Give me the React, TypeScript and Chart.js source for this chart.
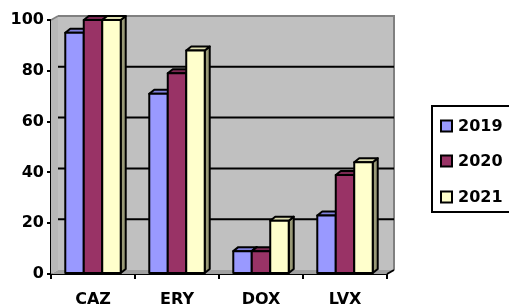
import React, { useEffect, useRef } from "react";
import { Chart, registerables } from "chart.js";
Chart.register(...registerables);

const categories = ["CAZ", "ERY", "DOX", "LVX"];
const seriesNames = ["2019", "2020", "2021"];
const values2019 = [95, 71, 9, 23];
const values2020 = [100, 79, 9, 39];
const values2021 = [100, 88, 21, 44];
const yTickValues = [0, 20, 40, 60, 80, 100];

const frontColors = ["#9999FF", "#993366", "#FFFFCC"];
const topColors = ["#8080DD", "#7A2952", "#DDDDB0"];
const sideColors = ["#6666AA", "#5C1F3D", "#999977"];

const FONT = "'DejaVu Sans', sans-serif";

const WALL_DX = 7;
const WALL_DY = -4;
const BAR_DX = 5;
const BAR_DY = -4;

const wallPlugin = {
  id: "wall3d",
  beforeDatasetsDraw(chart: any) {
    const { ctx, chartArea } = chart;
    const { left, right, top, bottom } = chartArea;
    const ys = chart.scales.y;
    ctx.save();
    // left wall
    ctx.fillStyle = "#B8B8B8";
    ctx.beginPath();
    ctx.moveTo(left, top);
    ctx.lineTo(left + WALL_DX, top + WALL_DY);
    ctx.lineTo(left + WALL_DX, bottom + WALL_DY);
    ctx.lineTo(left, bottom);
    ctx.closePath();
    ctx.fill();
    ctx.strokeStyle = "#808080";
    ctx.lineWidth = 1.5;
    ctx.beginPath();
    ctx.moveTo(left, top);
    ctx.lineTo(left + WALL_DX, top + WALL_DY);
    ctx.stroke();
    // back wall
    ctx.fillStyle = "#C0C0C0";
    ctx.fillRect(left + WALL_DX, top + WALL_DY, right - left, bottom - top);
    ctx.strokeStyle = "#808080";
    ctx.lineWidth = 2;
    ctx.beginPath();
    ctx.moveTo(left + WALL_DX, top + WALL_DY);
    ctx.lineTo(right + WALL_DX, top + WALL_DY);
    ctx.lineTo(right + WALL_DX, bottom + WALL_DY);
    ctx.stroke();
    // floor
    ctx.fillStyle = "#A0A0A0";
    ctx.beginPath();
    ctx.moveTo(left, bottom);
    ctx.lineTo(right, bottom);
    ctx.lineTo(right + WALL_DX, bottom + WALL_DY);
    ctx.lineTo(left + WALL_DX, bottom + WALL_DY);
    ctx.closePath();
    ctx.fill();
    // gridlines on back wall
    ctx.strokeStyle = "#000000";
    ctx.lineWidth = 2;
    yTickValues.forEach((v) => {
      if (v === 0 || v === 100) return;
      const y = ys.getPixelForValue(v) + WALL_DY;
      ctx.beginPath();
      ctx.moveTo(left + WALL_DX, y);
      ctx.lineTo(right + WALL_DX, y);
      ctx.stroke();
    });
    // right floor diagonal
    ctx.beginPath();
    ctx.moveTo(right, bottom);
    ctx.lineTo(right + WALL_DX, bottom + WALL_DY);
    ctx.stroke();
    ctx.restore();
  },
  afterDatasetsDraw(chart: any) {
    const { ctx } = chart;
    ctx.save();
    ctx.lineWidth = 2;
    ctx.strokeStyle = "#000000";
    ctx.lineJoin = "round";
    const n = chart.data.labels.length;
    for (let k = 0; k < n; k++) {
      for (let i = 0; i < chart.data.datasets.length; i++) {
        const bar: any = chart.getDatasetMeta(i).data[k];
        if (!bar) continue;
        const p = bar.getProps(["x", "y", "width", "base"], true);
        const l = p.x - p.width / 2;
        const r = p.x + p.width / 2;
        const t = p.y;
        const b = p.base;
        // side
        ctx.fillStyle = sideColors[i];
        ctx.beginPath();
        ctx.moveTo(r, t);
        ctx.lineTo(r + BAR_DX, t + BAR_DY);
        ctx.lineTo(r + BAR_DX, b + BAR_DY);
        ctx.lineTo(r, b);
        ctx.closePath();
        ctx.fill();
        ctx.stroke();
        // top
        ctx.fillStyle = topColors[i];
        ctx.beginPath();
        ctx.moveTo(l, t);
        ctx.lineTo(l + BAR_DX, t + BAR_DY);
        ctx.lineTo(r + BAR_DX, t + BAR_DY);
        ctx.lineTo(r, t);
        ctx.closePath();
        ctx.fill();
        ctx.stroke();
        // front
        ctx.fillStyle = frontColors[i];
        ctx.fillRect(l, t, r - l, b - t);
        ctx.strokeRect(l, t, r - l, b - t);
      }
    }
    ctx.restore();
  },
  afterDraw(chart: any) {
    const { ctx } = chart;
    ctx.save();
    const bx = 432;
    const by = 106;
    const bw = 90;
    const bh = 106;
    ctx.fillStyle = "#FFFFFF";
    ctx.fillRect(bx, by, bw, bh);
    ctx.strokeStyle = "#000000";
    ctx.lineWidth = 2;
    ctx.strokeRect(bx, by, bw, bh);
    const centers = [126, 161, 197];
    seriesNames.forEach((name, i) => {
      const cy = centers[i];
      ctx.fillStyle = frontColors[i];
      ctx.fillRect(441, cy - 5.5, 11, 11);
      ctx.lineWidth = 2;
      ctx.strokeRect(441, cy - 5.5, 11, 11);
      ctx.fillStyle = "#000000";
      ctx.font = `bold 16px ${FONT}`;
      ctx.textBaseline = "middle";
      ctx.textAlign = "left";
      ctx.fillText(name, 458, cy + 1);
    });
    ctx.restore();
  },
};

export default function App() {
  const ref = useRef<HTMLCanvasElement | null>(null);
  useEffect(() => {
    document.body.style.margin = "0";
    const canvas = ref.current!;
    const chart = new Chart(canvas, {
      type: "bar",
      data: {
        labels: categories,
        datasets: [values2019, values2020, values2021].map((vals, i) => ({
          label: seriesNames[i],
          data: vals,
          backgroundColor: frontColors[i],
          borderColor: "#000000",
          borderWidth: 0,
          categoryPercentage: 0.66,
          barPercentage: 1.0,
        })),
      },
      options: {
        responsive: false,
        animation: false,
        events: [],
        layout: { padding: { top: 20, right: 122, left: 0, bottom: 0 } },
        plugins: {
          legend: { display: false },
          tooltip: { enabled: false },
        },
        scales: {
          x: {
            afterFit: (s: any) => {
              s.height = 34;
            },
            grid: {
              offset: true,
              drawOnChartArea: false,
              drawTicks: true,
              tickLength: 5,
              color: "#000000",
              lineWidth: 2,
            },
            border: { display: true, color: "#000000", width: 2 },
            ticks: {
              color: "#000000",
              font: { family: FONT, size: 16, weight: "bold" },
              padding: 11,
            },
          },
          y: {
            min: 0,
            max: 100,
            afterFit: (s: any) => {
              s.width = 51;
            },
            afterBuildTicks: (s: any) => {
              s.ticks = yTickValues.map((v) => ({ value: v }));
            },
            grid: {
              drawOnChartArea: false,
              drawTicks: true,
              tickLength: 4,
              color: "#000000",
              lineWidth: 2,
            },
            border: { display: true, color: "#000000", width: 2 },
            ticks: {
              color: "#000000",
              font: { family: FONT, size: 16, weight: "bold" },
              padding: 3,
            },
          },
        },
      },
      plugins: [wallPlugin],
    } as any);
    return () => chart.destroy();
  }, []);
  return (
    <div style={{ width: 509, height: 308, background: "#FFFFFF" }}>
      <canvas ref={ref} width={509} height={308} style={{ display: "block" }} />
    </div>
  );
}
